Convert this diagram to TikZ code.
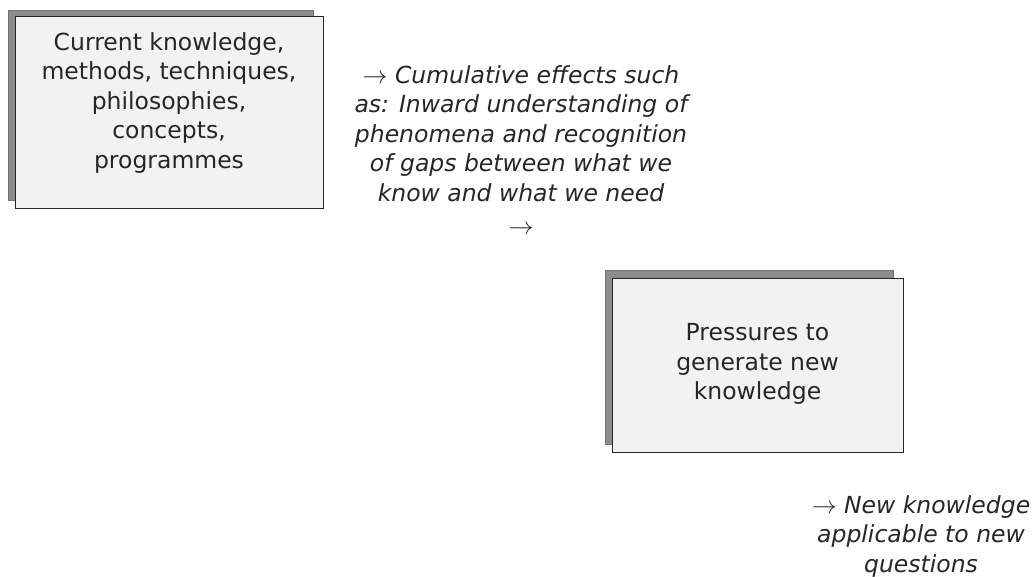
\documentclass[tikz,border=0pt]{standalone}
\usepackage{fontspec}
\setmainfont{DejaVu Sans}
\begin{document}
\begin{tikzpicture}[x=1pt,y=-1pt,
  shadowbox/.style={fill=black!45,draw=black!55,line width=0.8pt},
  frontbox/.style={draw=black!85,fill=black!5,line width=1pt,align=center,inner sep=0pt,text=black!85},
  note/.style={align=center,text=black!85,font=\fontsize{23.5}{29.5}\selectfont\itshape},
  boxtext/.style={font=\fontsize{23.5}{29.5}\selectfont}]
\useasboundingbox (0,0) rectangle (1035,577);
% box 1
\fill[shadowbox] (8,10) rectangle (313,200);
\node[frontbox,boxtext,minimum width=308pt,minimum height=192pt] (cur) at (169,113) {};
\node[boxtext,align=center,text=black!85] (curtext) at (169,103) {Current knowledge,\\methods, techniques,\\philosophies,\\concepts,\\programmes};
% note 1
\node[note] (cum) at (521,150) {$\rightarrow$ Cumulative effects such\\as: Inward understanding of\\phenomena and recognition\\of gaps between what we\\know and what we need\\[4pt]$\rightarrow$};
% box 2
\fill[shadowbox] (605,270) rectangle (893,444);
\node[frontbox,minimum width=291pt,minimum height=174pt] (press) at (757.5,365) {};
\node[boxtext,align=center,text=black!85] (presstext) at (757.5,364) {Pressures to\\generate new\\knowledge};
% note 2
\node[note] (newk) at (921,536) {$\rightarrow$ New knowledge\\applicable to new\\questions};
\end{tikzpicture}
\end{document}
